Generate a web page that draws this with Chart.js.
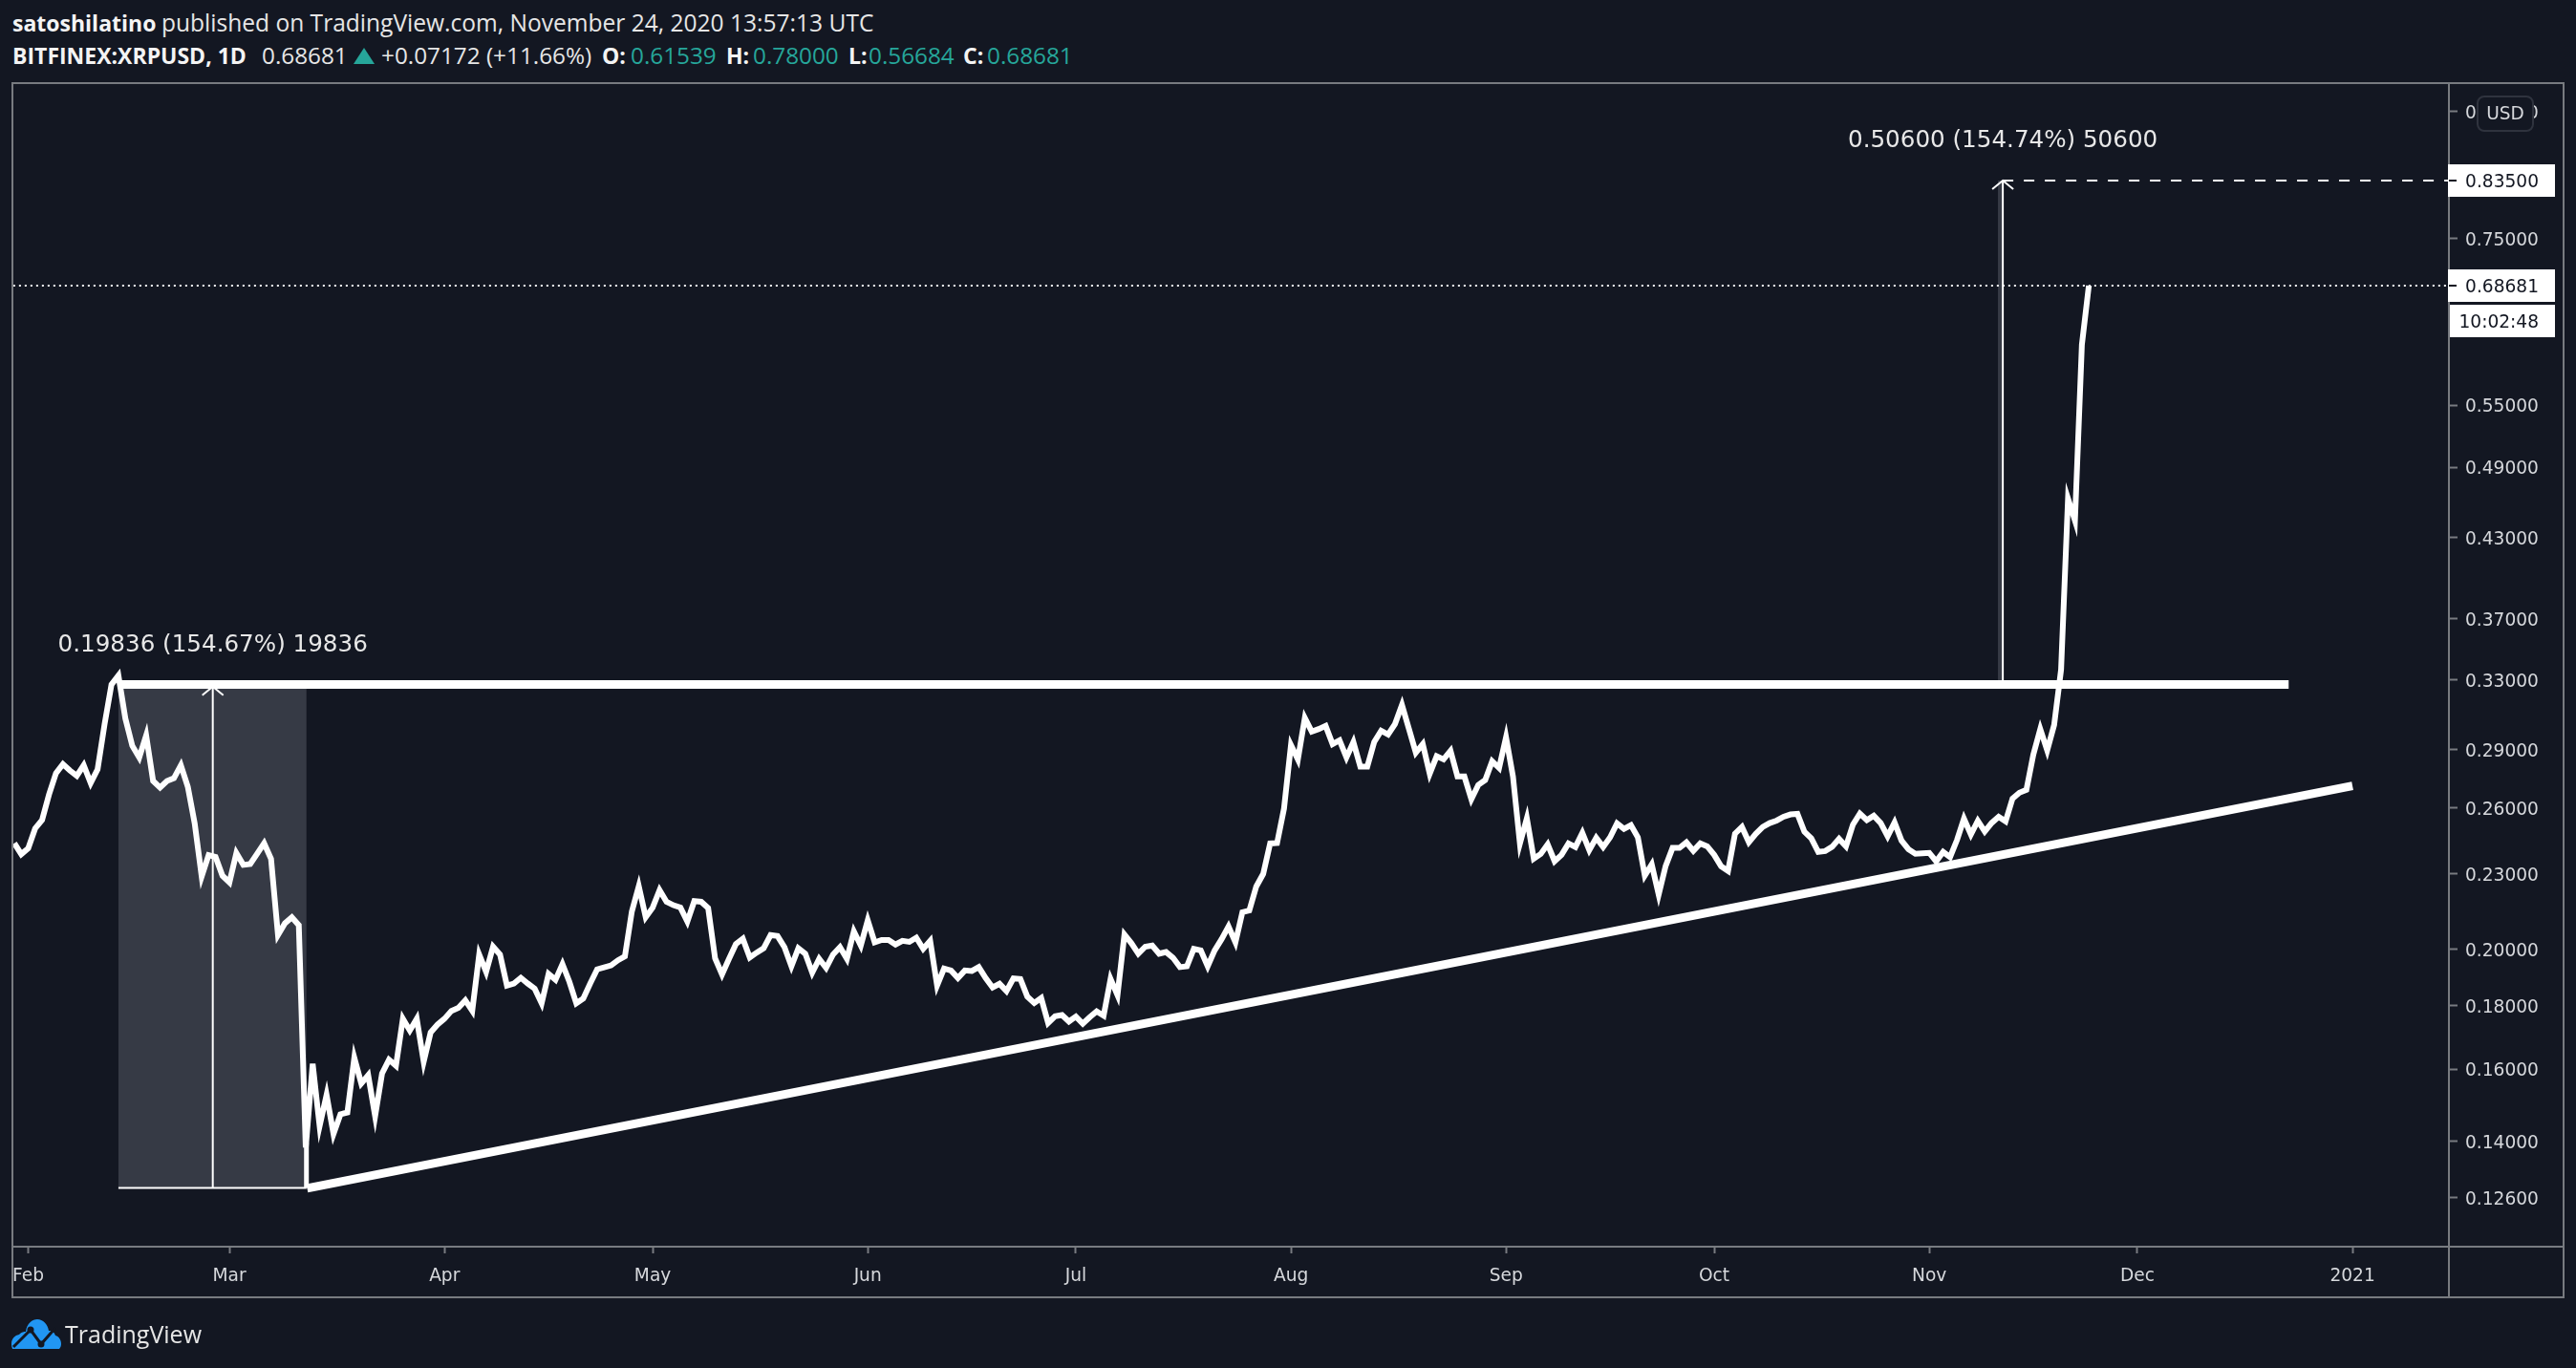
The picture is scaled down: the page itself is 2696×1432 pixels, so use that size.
<!DOCTYPE html>
<html>
<head>
<meta charset="utf-8">
<script src="https://cdn.jsdelivr.net/npm/chart.js@4/dist/chart.umd.min.js"></script>
<style>
  html, body { margin: 0; padding: 0; background: #131722; }
  body { width: 2696px; height: 1432px; position: relative; overflow: hidden; }
  canvas { position: absolute; left: 0; top: 0; }
  .head { position: absolute; white-space: nowrap; color: #e6e6e6; font-family: "Open Sans", sans-serif; font-size: 24.3px; line-height: 30px; }
  .head.b { font-weight: 700; font-size: 23px; color: #f4f4f4; }
  .head.g { color: #26a69a; }
  #upMark { position: absolute; left: 370px; top: 50px; width: 0; height: 0; border-left: 11px solid transparent; border-right: 11px solid transparent; border-bottom: 17px solid #26a69a; }
  #brand { position: absolute; left: 12px; top: 1380px; width: 52px; height: 32px; }
  #brandText { position: absolute; left: 68px; top: 1380px; color: #e6e6e6; font-family: "Open Sans", sans-serif; font-size: 25px; line-height: 32px; }
</style>
</head>
<body>
<div class="head b" style="left:13px;top:9px">satoshilatino</div>
<div class="head" style="left:169px;top:9px;font-size:24.56px">published on TradingView.com, November 24, 2020 13:57:13 UTC</div>
<div class="head b" style="left:13px;top:43px">BITFINEX:XRPUSD, 1D</div>
<div class="head" style="left:274px;top:43px">0.68681</div>
<div id="upMark"></div>
<div class="head" style="left:399px;top:43px">+0.07172 (+11.66%)</div>
<div class="head b" style="left:630px;top:43px">O:</div>
<div class="head g" style="left:660px;top:43px">0.61539</div>
<div class="head b" style="left:760px;top:43px">H:</div>
<div class="head g" style="left:788px;top:43px">0.78000</div>
<div class="head b" style="left:888px;top:43px">L:</div>
<div class="head g" style="left:909px;top:43px">0.56684</div>
<div class="head b" style="left:1008px;top:43px">C:</div>
<div class="head g" style="left:1033px;top:43px">0.68681</div>
<canvas id="xrpChart" width="2696" height="1432"></canvas>
<svg id="brand" viewBox="0 0 52 32">
  <path d="M1 32 C-2 24 2 18 8 17 C11 14 13 14 15 14 C16 5 22 1 27 1 C33 1 38 6 39 13 C43 13 45 15 46 18 C50 19 52 23 52 27 C52 29 51 31 50 32 Z" fill="#2196f3"/>
  <path d="M2 30 L20 12 L31 27 L46 10" fill="none" stroke="#131722" stroke-width="3"/>
  <circle cx="20" cy="12" r="3.5" fill="#131722"/>
  <circle cx="31" cy="27" r="3.5" fill="#131722"/>
</svg>
<div id="brandText">TradingView</div>
<script>
const firstDay = -2;
const closes = [
  0.2435, 0.2386, 0.2412, 0.2503, 0.2543, 0.2666, 0.2774, 0.2821, 0.2788, 0.2760, 0.2815, 0.2724, 0.2794, 0.3037, 0.3271, 0.3326,
  0.3071, 0.2919, 0.2856, 0.2976, 0.2734, 0.2701, 0.2734, 0.2748, 0.2815, 0.2705, 0.2525, 0.2289, 0.2382, 0.2374, 0.2292, 0.2264,
  0.2391, 0.2339, 0.2343, 0.2388, 0.2435, 0.2365, 0.2053, 0.2098, 0.2122, 0.2091, 0.1383, 0.1616, 0.1439, 0.1525, 0.1418, 0.1471,
  0.1476, 0.1634, 0.1558, 0.1582, 0.1466, 0.1587, 0.1628, 0.1610, 0.1757, 0.1719, 0.1757, 0.1622, 0.1713, 0.1738,
  0.1757, 0.1783, 0.1793, 0.1818, 0.1783, 0.1980, 0.1917, 0.2009, 0.1980, 0.1869, 0.1876, 0.1896, 0.1876, 0.1858, 0.1808,
  0.1910, 0.1889, 0.1945, 0.1882, 0.1808, 0.1824, 0.1876, 0.1926, 0.1933, 0.1940, 0.1959, 0.1973, 0.2145, 0.2248, 0.2122,
  0.2160, 0.2232, 0.2184, 0.2170, 0.2161, 0.2105, 0.2187, 0.2184, 0.2159, 0.1966, 0.1908, 0.1964, 0.2019, 0.2039, 0.1969,
  0.1987, 0.2003, 0.2053, 0.2049, 0.2007, 0.1937, 0.2003, 0.1983, 0.1914, 0.1964, 0.1931, 0.1980, 0.2007, 0.1964, 0.2067,
  0.2013, 0.2110, 0.2025, 0.2034, 0.2034, 0.2017, 0.2031, 0.2027, 0.2043, 0.2001, 0.2031, 0.1869, 0.1929, 0.1922, 0.1895,
  0.1922, 0.1920, 0.1934, 0.1895, 0.1862, 0.1875, 0.1850, 0.1894, 0.1892, 0.1831, 0.1809, 0.1826, 0.1743, 0.1765, 0.1769,
  0.1748, 0.1764, 0.1741, 0.1762, 0.1781, 0.1767, 0.1892, 0.1836, 0.2055, 0.2022, 0.1983, 0.2009, 0.2013, 0.1983, 0.1989,
  0.1968, 0.1934, 0.1937, 0.2001, 0.1995, 0.1937, 0.1995, 0.2037, 0.2086, 0.2025, 0.2142, 0.2149, 0.2247, 0.2300, 0.2434,
  0.2436, 0.2597, 0.2923, 0.2846, 0.3074, 0.2997, 0.3011, 0.3029, 0.2928, 0.2949, 0.2856, 0.2939, 0.2808, 0.2808, 0.2940,
  0.3002, 0.2981, 0.3040, 0.3149, 0.3013, 0.2882, 0.2928, 0.2771, 0.2863, 0.2846, 0.2892, 0.2757, 0.2757, 0.2643, 0.2714,
  0.2739, 0.2836, 0.2801, 0.2966, 0.2757, 0.2434, 0.2551, 0.2366, 0.2387, 0.2430, 0.2355, 0.2383, 0.2434, 0.2418, 0.2482,
  0.2404, 0.2460, 0.2418, 0.2462, 0.2527, 0.2501, 0.2518, 0.2462, 0.2293, 0.2341, 0.2213, 0.2334, 0.2414, 0.2414, 0.2439,
  0.2401, 0.2434, 0.2421, 0.2383, 0.2333, 0.2313, 0.2479, 0.2510, 0.2440, 0.2478, 0.2510, 0.2528, 0.2540, 0.2558, 0.2569,
  0.2572, 0.2488, 0.2457, 0.2396, 0.2400, 0.2419, 0.2455, 0.2421, 0.2521, 0.2573, 0.2542, 0.2563, 0.2528, 0.2467, 0.2531,
  0.2447, 0.2408, 0.2388, 0.2390, 0.2392, 0.2354, 0.2396, 0.2373, 0.2450, 0.2549, 0.2475, 0.2539, 0.2489, 0.2529, 0.2558,
  0.2536, 0.2646, 0.2675, 0.2689, 0.2871, 0.3011, 0.2894, 0.3034, 0.3363, 0.4622, 0.4437, 0.6154, 0.68681,
];

const monthDays = [0, 29, 60, 90, 121, 151, 182, 213, 243, 274, 304, 335];
const monthLabels = ["Feb", "Mar", "Apr", "May", "Jun", "Jul", "Aug", "Sep", "Oct", "Nov", "Dec", "2021"];
const priceTicks = [0.95, 0.85, 0.75, 0.65, 0.55, 0.49, 0.43, 0.37, 0.33, 0.29, 0.26, 0.23, 0.2, 0.18, 0.16, 0.14, 0.126];

const dayRange = [-2.16, 348.9];
const priceRange = [0.115, 1.0009];

const resistanceDays = [13, 325.8];
const resistanceValues = [0.3271, 0.3271];
const trendDays = [40.2, 335];
const trendValues = [0.1282, 0.2709];

const leftMeasureDays = [13, 40.1];
const leftMeasureValues = [0.1283, 0.3258];
const leftMeasureMid = 26.6;
const leftMeasureLabel = "0.19836 (154.67%) 19836";

const rightMeasureDays = [283.9, 284.6];
const rightMeasureValues = [0.3271, 0.835];
const rightMeasureLabel = "0.50600 (154.74%) 50600";

const lastPrice = 0.68681;
const targetPrice = 0.835;
const countdown = "10:02:48";

const FONT = '"DejaVu Sans", sans-serif';
const FRAME = "#787b80";
const TEXT = "#d6d8dc";
const BG = "#131722";

function lineDataset(label, xs, ys, width, dash) {
  return {
    label,
    data: xs.map((x, i) => ({ x, y: ys[i] })),
    borderColor: "#ffffff",
    borderWidth: width,
    borderDash: dash || [],
    pointRadius: 0,
    tension: 0,
    fill: false,
  };
}

function arrowHead(ctx, x, y) {
  ctx.beginPath();
  ctx.moveTo(x - 11, y + 9);
  ctx.lineTo(x, y);
  ctx.lineTo(x + 11, y + 9);
  ctx.stroke();
}

function priceBox(ctx, yPix, text) {
  ctx.fillStyle = "#ffffff";
  ctx.fillRect(2562, yPix - 17, 112, 34);
  ctx.fillStyle = "#131722";
  ctx.fillRect(2563, yPix - 1, 8, 2);
  ctx.fillText(text, 2657, yPix + 2);
}

const measurePlugin = {
  id: "measures",
  beforeDatasetsDraw(chart) {
    const { ctx, scales } = chart;
    const { x, y } = scales;
    ctx.save();
    ctx.fillStyle = "#363a45";
    ctx.fillRect(x.getPixelForValue(leftMeasureDays[0]), y.getPixelForValue(leftMeasureValues[1]),
      x.getPixelForValue(leftMeasureDays[1]) - x.getPixelForValue(leftMeasureDays[0]),
      y.getPixelForValue(leftMeasureValues[0]) - y.getPixelForValue(leftMeasureValues[1]));
    ctx.fillRect(x.getPixelForValue(rightMeasureDays[0]), y.getPixelForValue(rightMeasureValues[1]),
      x.getPixelForValue(rightMeasureDays[1]) - x.getPixelForValue(rightMeasureDays[0]),
      y.getPixelForValue(rightMeasureValues[0]) - y.getPixelForValue(rightMeasureValues[1]));
    ctx.restore();
  },
  afterDraw(chart) {
    const { ctx, scales } = chart;
    const { x, y } = scales;
    ctx.save();

    ctx.strokeStyle = FRAME;
    ctx.lineWidth = 2;
    ctx.strokeRect(13, 87, 2670, 1271);
    ctx.beginPath();
    ctx.moveTo(2563, 87);
    ctx.lineTo(2563, 1358);
    ctx.moveTo(13, 1305);
    ctx.lineTo(2683, 1305);
    ctx.stroke();

    ctx.strokeStyle = "#ffffff";
    arrowHead(ctx, x.getPixelForValue(leftMeasureMid), y.getPixelForValue(leftMeasureValues[1]));
    arrowHead(ctx, x.getPixelForValue(rightMeasureDays[1]), y.getPixelForValue(rightMeasureValues[1]));

    ctx.font = "24.6px " + FONT;
    ctx.fillStyle = "#e8e8e8";
    ctx.textAlign = "center";
    ctx.textBaseline = "middle";
    ctx.fillText(leftMeasureLabel, x.getPixelForValue(leftMeasureMid), 676);
    ctx.fillText(rightMeasureLabel, x.getPixelForValue(rightMeasureDays[1]), 148);

    ctx.font = "18.6px " + FONT;
    ctx.textAlign = "right";
    priceBox(ctx, y.getPixelForValue(targetPrice), targetPrice.toFixed(5));
    priceBox(ctx, y.getPixelForValue(lastPrice), lastPrice.toFixed(5));
    ctx.fillStyle = "#ffffff";
    ctx.fillRect(2564, 319, 110, 34);
    ctx.fillStyle = "#131722";
    ctx.fillText(countdown, 2657, 338);

    ctx.beginPath();
    ctx.roundRect(2593, 101, 58, 36, 7);
    ctx.fillStyle = BG;
    ctx.fill();
    ctx.strokeStyle = "#2f333e";
    ctx.stroke();
    ctx.fillStyle = TEXT;
    ctx.textAlign = "center";
    ctx.fillText("USD", 2622, 120);
    ctx.restore();
  },
};

new Chart(document.getElementById("xrpChart").getContext("2d"), {
  type: "line",
  data: {
    datasets: [
      lineDataset("XRPUSD", closes.map((c, i) => firstDay + i), closes, 6),
      lineDataset("Resistance", resistanceDays, resistanceValues, 9),
      lineDataset("Trend", trendDays, trendValues, 9),
      lineDataset("Last price", dayRange, [lastPrice, lastPrice], 2, [2, 4]),
      lineDataset("Target", [rightMeasureDays[1], dayRange[1]], [targetPrice, targetPrice], 2, [11, 11]),
      lineDataset("Left base", leftMeasureDays, [leftMeasureValues[0], leftMeasureValues[0]], 2),
      lineDataset("Left rise", [leftMeasureMid, leftMeasureMid], leftMeasureValues, 2),
      lineDataset("Left edge", [leftMeasureDays[1], leftMeasureDays[1]], [leftMeasureValues[0], 0.1395], 5),
      lineDataset("Right rise", [rightMeasureDays[1], rightMeasureDays[1]], rightMeasureValues, 2),
    ],
  },
  options: {
    responsive: false,
    devicePixelRatio: 1,
    animation: false,
    layout: { padding: { left: 13, top: 87, right: 13, bottom: 74 } },
    plugins: { legend: { display: false }, tooltip: { enabled: false } },
    scales: {
      x: {
        type: "linear",
        min: dayRange[0],
        max: dayRange[1],
        afterBuildTicks: (s) => { s.ticks = monthDays.map((value) => ({ value })); },
        afterFit: (s) => { s.height = 53; },
        grid: { drawOnChartArea: false, tickLength: 7, tickColor: FRAME, tickWidth: 2 },
        border: { display: false },
        ticks: {
          autoSkip: false,
          maxRotation: 0,
          padding: 13,
          color: TEXT,
          font: { family: FONT, size: 18.6 },
          callback: (v) => monthLabels[monthDays.indexOf(v)],
        },
      },
      y: {
        type: "logarithmic",
        position: "right",
        min: priceRange[0],
        max: priceRange[1],
        afterBuildTicks: (s) => { s.ticks = priceTicks.map((value) => ({ value })); },
        afterFit: (s) => { s.width = 120; },
        grid: { drawOnChartArea: false, tickLength: 9, tickColor: FRAME, tickWidth: 2 },
        border: { display: false },
        ticks: {
          autoSkip: false,
          padding: 8,
          color: TEXT,
          font: { family: FONT, size: 18.6, lineHeight: "5px" },
          // two-line label pushes the digits down onto the tick mark
          callback: (v) => ["", v.toFixed(5)],
        },
      },
    },
  },
  plugins: [measurePlugin],
});
</script>
</body>
</html>
